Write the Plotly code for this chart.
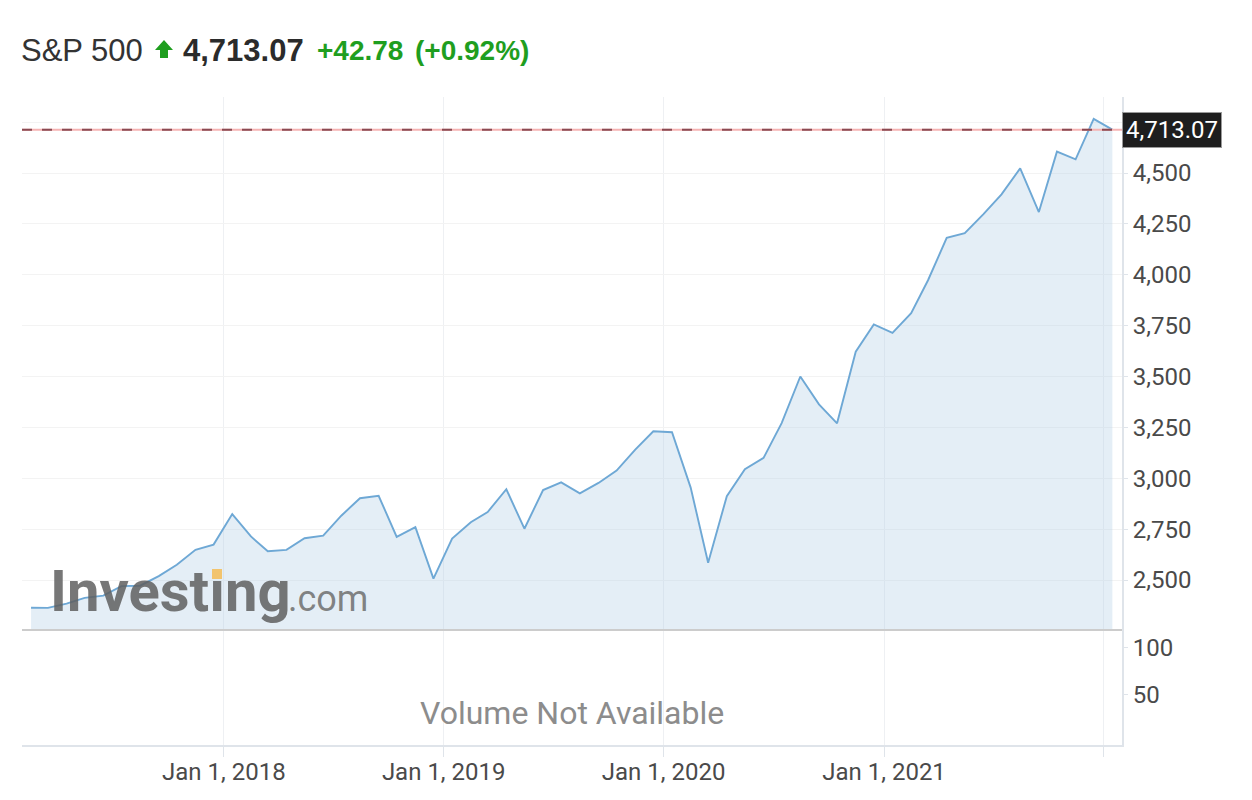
import plotly.graph_objects as go

# monthly closes, S&P 500 (points sit mid-month)
months = [
    "2017-02-15", "2017-03-15", "2017-04-15", "2017-05-15", "2017-06-15", "2017-07-15",
    "2017-08-15", "2017-09-15", "2017-10-15", "2017-11-15", "2017-12-15",
    "2018-01-15", "2018-02-15", "2018-03-15", "2018-04-15", "2018-05-15", "2018-06-15",
    "2018-07-15", "2018-08-15", "2018-09-15", "2018-10-15", "2018-11-15", "2018-12-15",
    "2019-01-15", "2019-02-15", "2019-03-15", "2019-04-15", "2019-05-15", "2019-06-15",
    "2019-07-15", "2019-08-15", "2019-09-15", "2019-10-15", "2019-11-15", "2019-12-15",
    "2020-01-15", "2020-02-15", "2020-03-15", "2020-04-15", "2020-05-15", "2020-06-15",
    "2020-07-15", "2020-08-15", "2020-09-15", "2020-10-15", "2020-11-15", "2020-12-15",
    "2021-01-15", "2021-02-15", "2021-03-15", "2021-04-15", "2021-05-15", "2021-06-15",
    "2021-07-15", "2021-08-15", "2021-09-15", "2021-10-15", "2021-11-15", "2021-12-15",
    "2022-01-15",
]
close = [
    2364, 2363, 2384, 2412, 2423, 2470, 2472, 2519, 2575, 2648, 2674,
    2824, 2714, 2641, 2648, 2705, 2718, 2816, 2902, 2914, 2712, 2760, 2507,
    2704, 2784, 2834, 2946, 2752, 2942, 2980, 2926, 2977, 3038, 3141, 3231,
    3226, 2954, 2585, 2912, 3044, 3100, 3271, 3500, 3363, 3270, 3622, 3756,
    3714, 3811, 3973, 4181, 4204, 4298, 4395, 4523, 4308, 4605, 4567, 4766,
    4713.07,
]
last_price = 4713.07
change = "+42.78"
change_pct = "(+0.92%)"

price_ticks = [2500, 2750, 3000, 3250, 3500, 3750, 4000, 4250, 4500, 4750]
price_labels = ["2,500", "2,750", "3,000", "3,250", "3,500", "3,750", "4,000", "4,250", "4,500", ""]
vol_ticks = [50, 100]
year_ticks = ["2018-01-01", "2019-01-01", "2020-01-01", "2021-01-01", "2022-01-01"]
year_labels = ["Jan 1, 2018", "Jan 1, 2019", "Jan 1, 2020", "Jan 1, 2021", ""]

# page body adds an 8px margin, so the figure is a bit smaller than the window
OFF = 8
W, H = 1236, 784
ML, MR, MT, MB = 14, 122, 89, 47
PW, PH = W - ML - MR, H - MT - MB
VOL_H = 115 / PH

GREEN = "#1f9e1f"
FONT = "Roboto"
HEAD_FONT = "Liberation Sans"


def px(x):
    # screen x -> paper
    return (x - OFF - ML) / PW


def py(y):
    # screen y -> paper
    return (H - MB - (y - OFF)) / PH


fig = go.Figure()

fig.add_trace(
    go.Scatter(
        x=months,
        y=close,
        mode="lines",
        line=dict(color="#6ea8d5", width=1.9),
        fill="tozeroy",
        fillcolor="rgba(180,208,230,0.36)",
        hoverinfo="x+y",
        showlegend=False,
    )
)

# empty volume panel
fig.add_trace(go.Scatter(x=[], y=[], yaxis="y2", showlegend=False))

axis_font = dict(family=FONT, size=24, color="#4a4a4a")

fig.update_layout(
    width=W,
    height=H,
    margin=dict(l=ML, r=MR, t=MT, b=MB),
    paper_bgcolor="white",
    plot_bgcolor="white",
    font=dict(family=FONT),
    xaxis=dict(
        type="date",
        range=["2017-01-31", "2022-01-31"],
        anchor="y2",
        automargin=False,
        tickvals=year_ticks,
        ticktext=year_labels,
        tickfont=axis_font,
        ticks="outside",
        ticklen=10,
        ticklabelstandoff=-6,
        tickcolor="#dfe4ea",
        tickwidth=1,
        showgrid=True,
        gridcolor="#eef0f3",
        showline=True,
        linecolor="#dfe4ea",
        linewidth=2,
        zeroline=False,
    ),
    yaxis=dict(
        domain=[VOL_H, 1],
        range=[2254.3, 4873.5],
        side="right",
        anchor="x",
        automargin=False,
        tickvals=price_ticks,
        ticktext=price_labels,
        tickfont=axis_font,
        ticks="outside",
        ticklen=4,
        tickcolor="#dfe4ea",
        showgrid=True,
        gridcolor="#f3f3f3",
        showline=True,
        linecolor="#dfe4ea",
        linewidth=2,
        zeroline=False,
    ),
    yaxis2=dict(
        domain=[0, VOL_H],
        range=[-3.2, 119.1],
        side="right",
        anchor="x",
        automargin=False,
        tickvals=vol_ticks,
        tickfont=axis_font,
        ticks="outside",
        ticklen=4,
        tickcolor="#dfe4ea",
        showgrid=False,
        showline=True,
        linecolor="#dfe4ea",
        linewidth=2,
        zeroline=False,
    ),
)

# last price line
fig.add_shape(type="line", xref="paper", yref="y", x0=0, x1=1, y0=last_price, y1=last_price,
              line=dict(color="#f6b3b3", width=2))
fig.add_shape(type="line", xref="paper", yref="y", x0=0, x1=1, y0=last_price, y1=last_price,
              line=dict(color="#8a4a52", width=2, dash="10px,10px"))

# separator between price and volume panels
fig.add_shape(type="line", xref="paper", yref="paper", x0=0, x1=1, y0=VOL_H, y1=VOL_H,
              line=dict(color="#cccccc", width=2))

# price tag
fig.add_annotation(
    x=1, y=last_price, xref="paper", yref="y", xanchor="left", yanchor="middle",
    text=f"{last_price:,.2f}", showarrow=False,
    font=dict(family=FONT, size=24, color="white"),
    bgcolor="#1e1e1e", bordercolor="#9a9a9a", borderwidth=1, borderpad=3,
)

# header
fig.add_annotation(x=px(19), y=py(50), xref="paper", yref="paper", xanchor="left", yanchor="middle",
                   text="S&P 500", showarrow=False, font=dict(family=HEAD_FONT, size=31, color="#333333"))
fig.add_shape(
    type="path", xref="paper", yref="paper",
    path=(f"M {px(164)} {py(40)} L {px(173)} {py(50)} L {px(168)} {py(50)} L {px(168)} {py(58)} "
          f"L {px(160)} {py(58)} L {px(160)} {py(50)} L {px(155)} {py(50)} Z"),
    fillcolor=GREEN, line=dict(width=0),
)
fig.add_annotation(x=px(181), y=py(50), xref="paper", yref="paper", xanchor="left", yanchor="middle",
                   text=f"<b>{last_price:,.2f}</b>", showarrow=False,
                   font=dict(family=HEAD_FONT, size=31, color="#2b2b2b"))
fig.add_annotation(x=px(315), y=py(51), xref="paper", yref="paper", xanchor="left", yanchor="middle",
                   text=f"<b>{change}</b>", showarrow=False, font=dict(family=HEAD_FONT, size=28, color=GREEN))
fig.add_annotation(x=px(413), y=py(51), xref="paper", yref="paper", xanchor="left", yanchor="middle",
                   text=f"<b>{change_pct}</b>", showarrow=False, font=dict(family=HEAD_FONT, size=28, color=GREEN))

# volume placeholder
fig.add_annotation(x=0.5, y=py(713), xref="paper", yref="paper", xanchor="center", yanchor="middle",
                   text="Volume Not Available", showarrow=False,
                   font=dict(family=FONT, size=32, color="#8c8c8c"))

# watermark
fig.add_annotation(x=px(48), y=py(591), xref="paper", yref="paper", xanchor="left", yanchor="middle",
                   text="<b>Investıng</b>", showarrow=False,
                   font=dict(family=FONT, size=58, color="rgba(95,95,95,0.85)"))
fig.add_annotation(x=px(286), y=py(599), xref="paper", yref="paper", xanchor="left", yanchor="middle",
                   text=".com", showarrow=False,
                   font=dict(family=FONT, size=36, color="rgba(110,110,110,0.85)"))
fig.add_shape(type="rect", xref="paper", yref="paper",
              x0=px(212), x1=px(222), y0=py(579), y1=py(569),
              fillcolor="#f2c46e", line=dict(width=0))

fig.write_html("out.html")
